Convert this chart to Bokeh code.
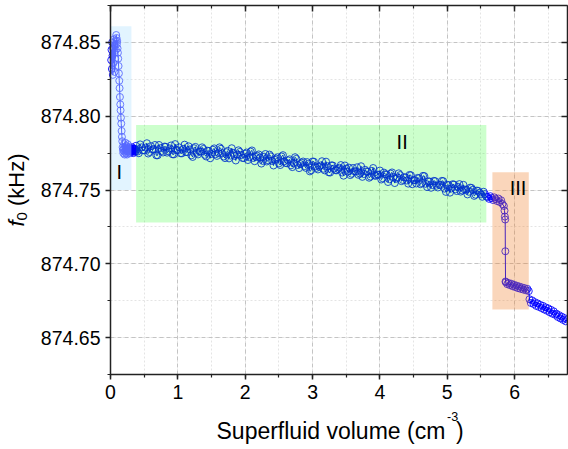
import math
from bokeh.plotting import figure
from bokeh.models import (Range1d, LinearAxis, SingleIntervalTicker, Grid,
                          NumeralTickFormatter, CustomJSTickFormatter, Label,
                          ColumnDataSource)
from bokeh.embed import file_html
from bokeh.resources import INLINE
from bokeh.core.properties import value

# ---------------- data ----------------
# Region I : fast drop at the very beginning
vol_I = [0.010, 0.015, 0.020, 0.025, 0.030, 0.035, 0.040, 0.045, 0.050, 0.055,
         0.060, 0.065, 0.070, 0.075, 0.080, 0.085, 0.090, 0.095, 0.100, 0.105,
         0.110, 0.115, 0.120, 0.125, 0.130, 0.135, 0.140, 0.145, 0.150, 0.155,
         0.160, 0.165, 0.170, 0.175, 0.180, 0.185, 0.190, 0.195, 0.200, 0.205,
         0.210, 0.215, 0.220, 0.225, 0.230, 0.235, 0.240, 0.245, 0.250, 0.255,
         0.260, 0.265, 0.270, 0.275, 0.280, 0.285, 0.290, 0.295, 0.300, 0.305,
         0.310, 0.315, 0.320, 0.325, 0.330, 0.335, 0.340, 0.345, 0.350, 0.355,
         0.360, 0.365, 0.370]
f0_I = [874.838, 874.845, 874.832, 874.850, 874.841, 874.828, 874.846, 874.836, 874.852, 874.843,
        874.830, 874.848, 874.839, 874.851, 874.845, 874.855, 874.853, 874.849, 874.851, 874.846,
        874.843, 874.839, 874.834, 874.829, 874.824, 874.819, 874.813, 874.808, 874.804, 874.799,
        874.795, 874.790, 874.786, 874.783, 874.779, 874.777, 874.775, 874.778, 874.781, 874.776,
        874.774, 874.779, 874.782, 874.777, 874.775, 874.780, 874.778, 874.774, 874.779, 874.781,
        874.776, 874.778, 874.775, 874.779, 874.777, 874.776, 874.778, 874.775, 874.777, 874.778,
        874.776, 874.777, 874.779, 874.776, 874.778, 874.777, 874.775, 874.778, 874.777, 874.776,
        874.778, 874.777, 874.776]

# Region II : slow decrease (two interleaved read-outs of the dense band)
vol_II = [0.38, 0.42, 0.46, 0.50, 0.54, 0.58, 0.62, 0.66, 0.70, 0.74,
          0.78, 0.82, 0.86, 0.90, 0.94, 0.98, 1.02, 1.06, 1.10, 1.14,
          1.18, 1.22, 1.26, 1.30, 1.34, 1.38, 1.42, 1.46, 1.50, 1.54,
          1.58, 1.62, 1.66, 1.70, 1.74, 1.78, 1.82, 1.86, 1.90, 1.94,
          1.98, 2.02, 2.06, 2.10, 2.14, 2.18, 2.22, 2.26, 2.30, 2.34,
          2.38, 2.42, 2.46, 2.50, 2.54, 2.58, 2.62, 2.66, 2.70, 2.74,
          2.78, 2.82, 2.86, 2.90, 2.94, 2.98, 3.02, 3.06, 3.10, 3.14,
          3.18, 3.22, 3.26, 3.30, 3.34, 3.38, 3.42, 3.46, 3.50, 3.54,
          3.58, 3.62, 3.66, 3.70, 3.74, 3.78, 3.82, 3.86, 3.90, 3.94,
          3.98, 4.02, 4.06, 4.10, 4.14, 4.18, 4.22, 4.26, 4.30, 4.34,
          4.38, 4.42, 4.46, 4.50, 4.54, 4.58, 4.62, 4.66, 4.70, 4.74,
          4.78, 4.82, 4.86, 4.90, 4.94, 4.98, 5.02, 5.06, 5.10, 5.14,
          5.18, 5.22, 5.26, 5.30, 5.34, 5.38, 5.42, 5.46, 5.50, 5.54,
          5.58]
f0_II = [874.7800, 874.7749, 874.7789, 874.7768, 874.7817, 874.7757, 874.7776, 874.7805, 874.7735, 874.7784,
         874.7754, 874.7793, 874.7762, 874.7802, 874.7741, 874.7770, 874.7789, 874.7748, 874.7807, 874.7756,
         874.7775, 874.7724, 874.7792, 874.7741, 874.7760, 874.7778, 874.7727, 874.7765, 874.7744, 874.7782,
         874.7731, 874.7789, 874.7748, 874.7716, 874.7765, 874.7733, 874.7752, 874.7700, 874.7769, 874.7737,
         874.7716, 874.7754, 874.7721, 874.7768, 874.7695, 874.7732, 874.7720, 874.7697, 874.7744, 874.7701,
         874.7728, 874.7666, 874.7713, 874.7680, 874.7727, 874.7694, 874.7681, 874.7708, 874.7655, 874.7722,
         874.7669, 874.7676, 874.7693, 874.7650, 874.7677, 874.7634, 874.7692, 874.7650, 874.7657, 874.7695,
         874.7633, 874.7661, 874.7618, 874.7666, 874.7634, 874.7642, 874.7669, 874.7597, 874.7645, 874.7652,
         874.7610, 874.7627, 874.7654, 874.7612, 874.7589, 874.7637, 874.7624, 874.7591, 874.7649, 874.7596,
         874.7603, 874.7571, 874.7618, 874.7605, 874.7572, 874.7619, 874.7547, 874.7584, 874.7601, 874.7568,
         874.7585, 874.7543, 874.7600, 874.7567, 874.7544, 874.7580, 874.7547, 874.7594, 874.7520, 874.7557,
         874.7533, 874.7560, 874.7517, 874.7533, 874.7560, 874.7487, 874.7533, 874.7510, 874.7537, 874.7493,
         874.7540, 874.7497, 874.7503, 874.7470, 874.7516, 874.7502, 874.7468, 874.7494, 874.7470, 874.7488,
         874.7456]
vol_IIb = [0.40, 0.44, 0.48, 0.52, 0.56, 0.60, 0.64, 0.68, 0.72, 0.76,
           0.80, 0.84, 0.88, 0.92, 0.96, 1.00, 1.04, 1.08, 1.12, 1.16,
           1.20, 1.24, 1.28, 1.32, 1.36, 1.40, 1.44, 1.48, 1.52, 1.56,
           1.60, 1.64, 1.68, 1.72, 1.76, 1.80, 1.84, 1.88, 1.92, 1.96,
           2.00, 2.04, 2.08, 2.12, 2.16, 2.20, 2.24, 2.28, 2.32, 2.36,
           2.40, 2.44, 2.48, 2.52, 2.56, 2.60, 2.64, 2.68, 2.72, 2.76,
           2.80, 2.84, 2.88, 2.92, 2.96, 3.00, 3.04, 3.08, 3.12, 3.16,
           3.20, 3.24, 3.28, 3.32, 3.36, 3.40, 3.44, 3.48, 3.52, 3.56,
           3.60, 3.64, 3.68, 3.72, 3.76, 3.80, 3.84, 3.88, 3.92, 3.96,
           4.00, 4.04, 4.08, 4.12, 4.16, 4.20, 4.24, 4.28, 4.32, 4.36,
           4.40, 4.44, 4.48, 4.52, 4.56, 4.60, 4.64, 4.68, 4.72, 4.76,
           4.80, 4.84, 4.88, 4.92, 4.96, 5.00, 5.04, 5.08, 5.12, 5.16,
           5.20, 5.24, 5.28, 5.32, 5.36, 5.40, 5.44, 5.48, 5.52, 5.56]
f0_IIb = [874.7760, 874.7809, 874.7769, 874.7788, 874.7747, 874.7797, 874.7776, 874.7735, 874.7805, 874.7764,
          874.7794, 874.7753, 874.7782, 874.7742, 874.7811, 874.7770, 874.7749, 874.7778, 874.7757, 874.7796,
          874.7735, 874.7783, 874.7752, 874.7761, 874.7789, 874.7738, 874.7766, 874.7715, 874.7773, 874.7742,
          874.7750, 874.7779, 874.7727, 874.7756, 874.7714, 874.7783, 874.7731, 874.7740, 874.7758, 874.7717,
          874.7745, 874.7703, 874.7760, 874.7717, 874.7724, 874.7741, 874.7679, 874.7726, 874.7693, 874.7740,
          874.7697, 874.7705, 874.7722, 874.7669, 874.7736, 874.7683, 874.7700, 874.7667, 874.7684, 874.7711,
          874.7648, 874.7685, 874.7662, 874.7689, 874.7626, 874.7693, 874.7661, 874.7639, 874.7666, 874.7644,
          874.7692, 874.7620, 874.7667, 874.7645, 874.7633, 874.7651, 874.7618, 874.7666, 874.7624, 874.7601,
          874.7649, 874.7626, 874.7603, 874.7661, 874.7608, 874.7626, 874.7583, 874.7630, 874.7598, 874.7605,
          874.7632, 874.7580, 874.7607, 874.7554, 874.7611, 874.7588, 874.7576, 874.7613, 874.7560, 874.7587,
          874.7564, 874.7602, 874.7539, 874.7566, 874.7582, 874.7539, 874.7596, 874.7542, 874.7559, 874.7515,
          874.7562, 874.7529, 874.7535, 874.7562, 874.7509, 874.7535, 874.7482, 874.7539, 874.7505, 874.7522,
          874.7489, 874.7535, 874.7502, 874.7488, 874.7514, 874.7460, 874.7496, 874.7482, 874.7454, 874.7472]

# Region III : step
vol_III = [5.60, 5.62, 5.64, 5.66, 5.68, 5.70, 5.72, 5.74, 5.76, 5.78,
           5.80, 5.82, 5.84, 5.850, 5.855, 5.860, 5.862, 5.865, 5.87, 5.89,
           5.91, 5.93, 5.95, 5.97, 5.99, 6.01, 6.03, 6.05, 6.07, 6.09,
           6.11, 6.13, 6.15, 6.17, 6.19, 6.21]
f0_III = [874.7452, 874.7440, 874.7458, 874.7445, 874.7432, 874.7450, 874.7438, 874.7425, 874.7442, 874.7418,
          874.7430, 874.7405, 874.7392, 874.7360, 874.7320, 874.7300, 874.7085, 874.6880, 874.6875, 874.6862,
          874.6870, 874.6855, 874.6865, 874.6848, 874.6858, 874.6842, 874.6852, 874.6835, 874.6846, 874.6830,
          874.6840, 874.6825, 874.6835, 874.6820, 874.6830, 874.6815]

# After region III
vol_IV = [6.22, 6.24, 6.26, 6.28, 6.30, 6.32, 6.34, 6.36, 6.38, 6.40,
          6.42, 6.44, 6.46, 6.48, 6.50, 6.52, 6.54, 6.56, 6.58, 6.60,
          6.62, 6.64, 6.66, 6.68, 6.70, 6.72, 6.74, 6.76, 6.78]
f0_IV = [874.6760, 874.6735, 874.6752, 874.6728, 874.6740, 874.6715, 874.6732, 874.6708, 874.6722, 874.6700,
         874.6715, 874.6690, 874.6705, 874.6682, 874.6698, 874.6672, 874.6688, 874.6662, 874.6678, 874.6655,
         874.6662, 874.6640, 874.6652, 874.6630, 874.6642, 874.6620, 874.6632, 874.6610, 874.6622]

# Shaded regions and their labels
region_names = ["I", "II", "III"]
region_left = [0.0, 0.38, 5.67]
region_right = [0.31, 5.58, 6.21]
region_bottom = [874.750, 874.728, 874.669]
region_top = [874.861, 874.794, 874.762]
label_x = [0.13, 4.33, 6.05]
label_y = [874.762, 874.7827, 874.7513]

# axis extents
X0, X1 = 0.0, 6.785
Y0, Y1 = 874.625, 874.875

# ---------------- layout / styling ----------------
FONT = "Liberation Sans"
W, H = 568, 449
PX_L, PX_R, PX_T, PX_B = 110, 567, 5, 374      # where the axes box sits (px)
region_colors = ["#bee6ff", "#00ff00", "#f0781e"]
region_alphas = [0.45, 0.2, 0.3]

sx = (PX_R - PX_L) / (X1 - X0)
sy = (PX_B - PX_T) / (Y1 - Y0)
x_range = Range1d(X0 - PX_L / sx, X1 + (W - PX_R) / sx)
y_range = Range1d(Y0 - (H - PX_B) / sy, Y1 + PX_T / sy)

pairs = sorted(zip(vol_I + vol_II + vol_IIb + vol_III + vol_IV,
                   f0_I + f0_II + f0_IIb + f0_III + f0_IV))
vol = [a for a, b in pairs]
f0 = [b for a, b in pairs]

p = figure(width=W, height=H, output_backend="svg", toolbar_location=None,
           x_range=x_range, y_range=y_range,
           x_axis_location=None, y_axis_location=None,
           min_border=0)
p.center = []
p.background_fill_color = "white"
p.border_fill_color = "white"
p.outline_line_color = None

# grids limited to the axes box
for dim, interval, bounds, cross in ((0, 1, (X0, X1), (Y0, Y1)),
                                     (1, 0.05, (Y0, Y1), (X0, X1))):
    g = Grid(dimension=dim,
             ticker=SingleIntervalTicker(interval=interval, num_minor_ticks=2),
             bounds=bounds, cross_bounds=cross,
             grid_line_color="#c4c4c4", grid_line_dash="4 3",
             minor_grid_line_color="#e4e4e4", minor_grid_line_dash="2 2")
    p.add_layout(g)

def style_axis(ax, labels):
    ax.axis_line_color = "#222222"
    ax.axis_line_width = 1.5
    ax.major_tick_line_color = "#222222"
    ax.minor_tick_line_color = "#222222"
    ax.major_tick_line_width = 1.5
    ax.minor_tick_line_width = 1.2
    if labels:
        ax.major_label_text_font = FONT
        ax.major_label_text_font_size = "19.5px"
        ax.major_label_text_color = "black"
        ax.major_label_standoff = 5
        ax.major_tick_in, ax.major_tick_out = 0, 5
        ax.minor_tick_in, ax.minor_tick_out = 0, 3
    else:
        ax.formatter = CustomJSTickFormatter(code="return ''")
        ax.major_label_standoff = 0
        ax.major_tick_in, ax.major_tick_out = 6, 0
        ax.minor_tick_in, ax.minor_tick_out = 3, 0

bottom = LinearAxis(fixed_location=Y0, bounds=(X0, X1),
                    ticker=SingleIntervalTicker(interval=1, num_minor_ticks=2))
left = LinearAxis(fixed_location=X0, bounds=(Y0, Y1),
                  ticker=SingleIntervalTicker(interval=0.05, num_minor_ticks=2),
                  formatter=NumeralTickFormatter(format="0.00"))
top = LinearAxis(fixed_location=Y1, bounds=(X0, X1),
                 ticker=SingleIntervalTicker(interval=1, num_minor_ticks=2))
right = LinearAxis(fixed_location=X1, bounds=(Y0, Y1),
                   ticker=SingleIntervalTicker(interval=0.05, num_minor_ticks=2))
style_axis(bottom, True)
style_axis(left, True)
style_axis(top, False)
style_axis(right, False)
p.add_layout(bottom, "below")
p.add_layout(left, "left")
p.add_layout(top, "above")
p.add_layout(right, "right")

# data
src = ColumnDataSource(dict(x=vol, y=f0))
p.line("x", "y", source=src, line_color="#0000ff", line_width=1)
p.scatter("x", "y", source=src, marker="circle", size=7, fill_color=None,
          line_color="#0000ff", line_width=1, line_alpha=0.85)

# shaded regions drawn on top (semi-transparent)
rsrc = ColumnDataSource(dict(left=region_left, right=region_right,
                             bottom=region_bottom, top=region_top,
                             color=region_colors, alpha=region_alphas))
p.quad(left="left", right="right", bottom="bottom", top="top", source=rsrc,
       fill_color="color", fill_alpha="alpha", line_color=None)

lsrc = ColumnDataSource(dict(x=label_x, y=label_y, t=region_names))
p.text("x", "y", text="t", source=lsrc, text_font=value(FONT),
       text_font_size="20px", text_align="center", text_baseline="middle",
       text_color="black")

# axis titles; (cx, cy) are pixel positions from the top-left corner
def lab(cx, cy, text, size, style="normal", angle=0.0):
    p.add_layout(Label(x=cx, y=H - cy, x_units="screen", y_units="screen",
                       text=text, text_font=FONT, text_font_size=size,
                       text_font_style=style, text_align="left",
                       text_baseline="alphabetic", text_color="black",
                       angle=angle))

lab(216, 430, "Superfluid volume (cm", "23px")
lab(446.5, 416, "-3", "12.5px")
lab(455.5, 430, ")", "23px")

lab(16, 226, "f", "22px", "italic", math.pi / 2)
lab(21.5, 219.9, "0", "15px", "normal", math.pi / 2)
lab(16, 205.5, "(kHz)", "22px", "normal", math.pi / 2)

open("out.html", "w").write(file_html(p, INLINE))
